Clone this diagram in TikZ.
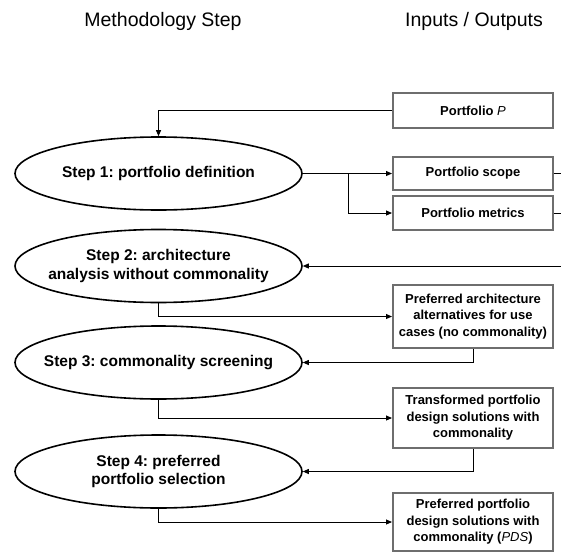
\documentclass[tikz,border=0pt]{standalone}
\usepackage{fontspec}
\setmainfont{Liberation Sans}
\frenchspacing
\usetikzlibrary{shapes.geometric,arrows.meta}
\definecolor{boxgray}{RGB}{110,110,110}
\tikzset{
  x=1pt,y=-1pt,
  stepell/.style={ellipse,draw=black,line width=1.6pt,minimum width=287pt,minimum height=73pt,inner sep=0pt},
  steptext/.style={align=center,inner sep=0pt,font=\bfseries\fontsize{15.5}{18.5}\selectfont},
  iobox/.style={rectangle,draw=boxgray,line width=2pt,minimum width=160pt,inner sep=0pt,align=center,font=\bfseries\fontsize{13}{16.5}\selectfont},
  header/.style={font=\fontsize{19.5}{22}\selectfont,anchor=base},
  conn/.style={draw=black,line width=0.9pt},
  arr/.style={conn,-{Triangle[length=6pt,width=5pt]}}
}
\begin{document}
\begin{tikzpicture}
\useasboundingbox (0,0) rectangle (561,551);
\node[header] (h1) at (163,27) {Methodology Step};
\node[header] (h2) at (474,27) {Inputs / Outputs};

\node[stepell] (s1) at (158.5,173.5) {};
\node[stepell] (s2) at (158.5,266) {};
\node[stepell] (s3) at (158.5,362.5) {};
\node[stepell] (s4) at (158.5,471.5) {};
\node[steptext] (t1) at (s1.center) {Step 1: portfolio definition};
\node[steptext] (t2) at (s2.center) {Step 2: architecture\\analysis without commonality};
\node[steptext] (t3) at (s3.center) {Step 3: commonality screening};
\node[steptext] (t4) at (s4.center) {Step 4: preferred\\portfolio selection};

\node[iobox,minimum height=35pt] (pp) at (473,110.5) {Portfolio {\normalfont\itshape P}};
\node[iobox,minimum height=33pt] (sc) at (473,173.5) {Portfolio scope};
\node[iobox,minimum height=34pt] (pm) at (473,213) {Portfolio metrics};
\node[iobox,minimum height=63pt] (pa) at (473,316.5) {Preferred architecture\\alternatives for use\\cases (no commonality)};
\node[iobox,minimum height=60pt] (tr) at (473,418) {Transformed portfolio\\design solutions with\\commonality};
\node[iobox,minimum height=58pt] (ps) at (473,522) {Preferred portfolio\\design solutions with\\commonality ({\normalfont\itshape PDS})};

\coordinate (br) at (348,173.5);
\coordinate (e1) at (561,173.5);
\coordinate (e2) at (561,213);
\coordinate (ret) at (561,266);

\draw[arr] (pp.west) -| (s1.north);
\draw[arr] (s1.east) -- (sc.west);
\draw[arr] (br) |- (pm.west);
\draw[conn] (sc.east) -- (e1);
\draw[conn] (pm.east) -- (e2);
\draw[arr] (ret) -- (s2.east);
\draw[arr] (s2.south) |- (pa.west);
\draw[arr] (pa.south) |- (s3.east);
\draw[arr] (s3.south) |- (tr.west);
\draw[arr] (tr.south) |- (s4.east);
\draw[arr] (s4.south) |- (ps.west);
\end{tikzpicture}
\end{document}
